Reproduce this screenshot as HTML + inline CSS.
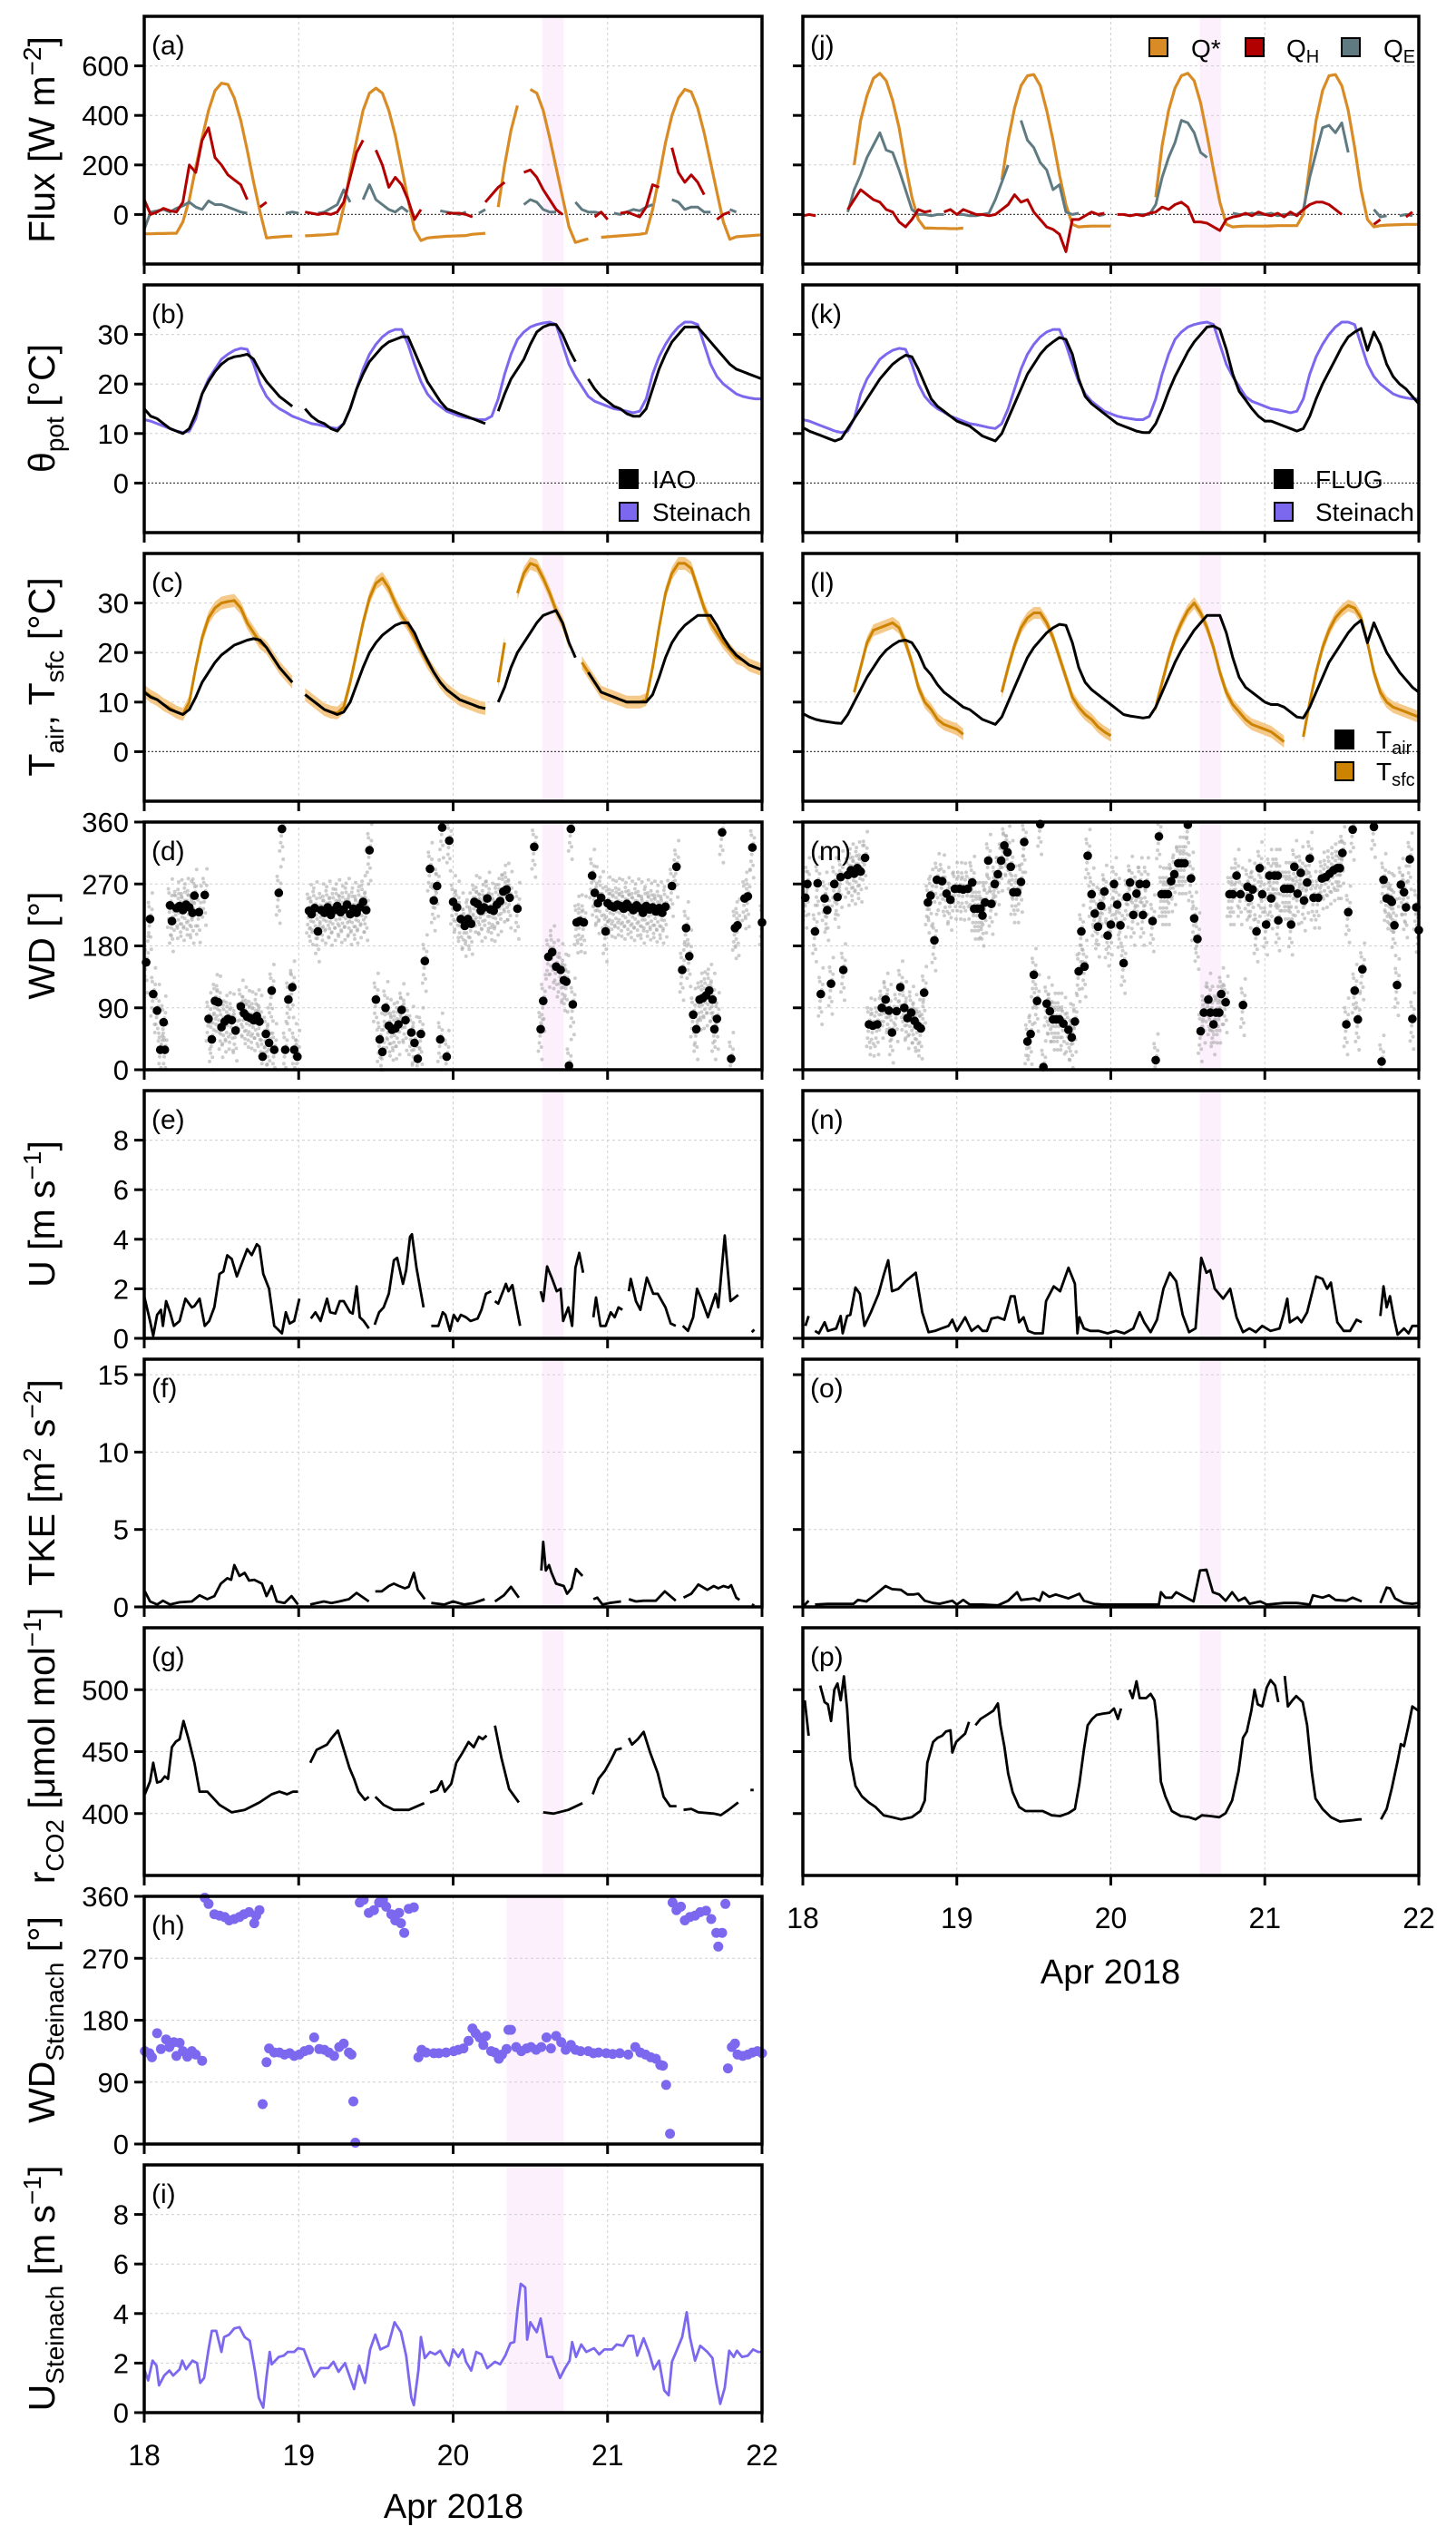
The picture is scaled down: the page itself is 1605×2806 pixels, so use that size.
<!DOCTYPE html>
<html><head><meta charset="utf-8"><style>
html,body{margin:0;padding:0;background:#fff}
svg{display:block;font-family:"Liberation Sans",Arial,sans-serif}
</style></head><body>
<svg id="fig" xmlns="http://www.w3.org/2000/svg" width="1605" height="2806" viewBox="0 0 1605 2806">
<rect width="1605" height="2806" fill="#fff"/>
<g id="layer"></g>
<g font-size="41" text-anchor="middle" fill="#000">
<text x="60" y="154" transform="rotate(-90 60 154)">Flux [W m<tspan font-size="28" dy="-15">−2</tspan><tspan dy="15">]</tspan></text>
<text x="60" y="450" transform="rotate(-90 60 450)">θ<tspan font-size="28" dy="10">pot</tspan><tspan dy="-10"> [°C]</tspan></text>
<text x="60" y="746" transform="rotate(-90 60 746)">T<tspan font-size="28" dy="10">air</tspan><tspan dy="-10">, T</tspan><tspan font-size="28" dy="10">sfc</tspan><tspan dy="-10"> [°C]</tspan></text>
<text x="60" y="1042" transform="rotate(-90 60 1042)">WD [°]</text>
<text x="60" y="1338" transform="rotate(-90 60 1338)">U [m s<tspan font-size="28" dy="-15">−1</tspan><tspan dy="15">]</tspan></text>
<text x="60" y="1634" transform="rotate(-90 60 1634)">TKE [m<tspan font-size="28" dy="-15">2</tspan><tspan dy="15"> s</tspan><tspan font-size="28" dy="-15">−2</tspan><tspan dy="15">]</tspan></text>
<text x="60" y="1924" transform="rotate(-90 60 1924)">r<tspan font-size="28" dy="10">CO2</tspan><tspan dy="-10"> [μmol mol</tspan><tspan font-size="28" dy="-15">−1</tspan><tspan dy="15">]</tspan></text>
<text x="60" y="2226" transform="rotate(-90 60 2226)">WD<tspan font-size="28" dy="10">Steinach</tspan><tspan dy="-10"> [°]</tspan></text>
<text x="60" y="2522" transform="rotate(-90 60 2522)">U<tspan font-size="28" dy="10">Steinach</tspan><tspan dy="-10"> [m s</tspan><tspan font-size="28" dy="-15">−1</tspan><tspan dy="15">]</tspan></text>
</g>
<g font-size="38" text-anchor="middle">
<text x="500" y="2775">Apr 2018</text>
<text x="1224" y="2186">Apr 2018</text>
</g>
<g font-size="28">
<rect x="683" y="518" width="20" height="20" fill="#000" stroke="#000" stroke-width="2"/>
<text x="719" y="538">IAO</text>
<rect x="683" y="554" width="20" height="20" fill="#7b68ee" stroke="#000" stroke-width="2"/>
<text x="719" y="574">Steinach</text>
<rect x="1405" y="518" width="20" height="20" fill="#000" stroke="#000" stroke-width="2"/>
<text x="1450" y="538">FLUG</text>
<rect x="1405" y="554" width="20" height="20" fill="#7b68ee" stroke="#000" stroke-width="2"/>
<text x="1450" y="574">Steinach</text>
<rect x="1267" y="42" width="20" height="20" fill="#d98c26" stroke="#000" stroke-width="2"/>
<text x="1313" y="63">Q*</text>
<rect x="1373" y="42" width="20" height="20" fill="#b20000" stroke="#000" stroke-width="2"/>
<text x="1418" y="63">Q<tspan font-size="20" dy="6">H</tspan></text>
<rect x="1479" y="42" width="20" height="20" fill="#5f7a80" stroke="#000" stroke-width="2"/>
<text x="1525" y="63">Q<tspan font-size="20" dy="6">E</tspan></text>
<rect x="1472" y="805" width="20" height="20" fill="#000" stroke="#000" stroke-width="2"/>
<text x="1517" y="825">T<tspan font-size="20" dy="6">air</tspan></text>
<rect x="1472" y="840" width="20" height="20" fill="#cc8400" stroke="#000" stroke-width="2"/>
<text x="1517" y="860">T<tspan font-size="20" dy="6">sfc</tspan></text>
</g>
</svg>
<script>
// ---------- DATA (hours since 18 Apr 00:00) ----------
const xTickDays = [18,19,20,21,22];
const qstarIAO = [-78,-78,-77,-77,-76,-76,-30,60,190,310,420,500,530,525,470,380,260,130,10,-95,-92,-90,-88,-87,
 null,-86,-85,-83,-82,-80,-78,30,170,300,420,490,510,490,420,320,190,60,-60,-105,-95,-92,-90,-88,
 -87,-86,-85,-80,-78,-76,null,30,200,340,440,null,505,490,420,310,190,70,-50,-113,-105,-98,null,-92,
 -90,-88,-86,-84,-82,-80,-75,20,150,290,400,470,505,495,430,330,210,90,-30,-100,-90,-88,-86,-84,-82];
const qhIAO = [60,0,10,25,15,10,50,200,170,300,350,230,200,160,140,120,60,null,30,50,null,-50,null,null,
 null,10,5,0,5,0,10,50,150,250,300,null,260,200,110,150,120,60,-20,20,null,null,null,5,
 5,5,0,-10,null,50,80,110,130,null,null,170,180,150,100,60,20,0,null,null,-40,null,-10,10,
 -20,null,5,10,0,-10,30,120,110,null,270,170,130,160,130,80,null,-20,0,10,null,10,null,null,null];
const qeIAO = [-60,10,15,20,10,25,35,50,30,20,55,40,40,30,20,10,5,null,null,null,null,null,5,10,
 5,null,null,5,10,25,40,100,50,null,60,120,60,40,20,10,30,10,null,null,null,null,15,10,
 5,0,10,null,5,20,null,null,null,null,null,40,60,50,20,10,10,null,null,50,20,10,10,5,
 null,5,0,10,20,15,30,40,null,null,60,50,20,30,30,10,10,null,null,20,10,null,null,null,null];
const qstarFLUG = [null,null,null,null,null,null,null,null,200,380,480,550,570,540,460,350,200,70,-20,-55,-55,-56,-56,-57,
 -57,-55,null,null,null,null,null,140,300,430,520,560,565,520,420,300,160,40,-40,-50,-48,-47,-47,-47,
 -47,null,null,null,null,null,null,70,280,420,510,560,570,540,450,320,180,50,-40,-50,-48,-47,-47,-47,
 -47,-46,-45,-45,-45,-45,0,200,380,500,560,565,520,420,270,100,-20,-50,-45,-43,-42,-41,-40,-40,-40];
const qeFLUG = [null,null,-30,null,null,null,null,10,100,160,230,280,330,260,250,180,100,20,0,0,-5,0,0,null,
 0,0,-5,-5,0,5,60,130,200,null,380,300,270,210,180,100,120,10,0,5,null,null,-5,0,
 null,null,0,-5,0,0,0,40,150,230,290,380,370,330,250,230,null,null,null,5,0,0,5,0,
 0,5,-5,0,0,0,20,150,250,350,360,330,370,250,null,null,null,20,-10,-5,null,-5,0,-5];
const qhFLUG = [-5,0,-5,null,null,null,null,20,60,100,80,60,50,20,10,-30,-50,-20,20,10,15,null,10,20,
 0,20,10,0,0,-5,0,20,40,80,50,60,10,-20,-50,-60,-80,-150,-20,-20,-5,10,0,5,
 null,0,0,-5,0,-5,5,10,30,20,40,50,30,-30,-30,-35,-50,-65,-20,-10,-5,5,-5,10,
 0,-5,5,-10,10,-5,20,40,50,50,40,20,0,null,null,null,null,-40,-20,null,null,null,-10,10];
const thetaIAO = [15,13.5,13,12,11,10.5,10,11,14,18,20.5,22.5,24,25,25.5,25.7,26,25,22.5,20.5,19,17.5,16.5,15.5,
 null,15,13.5,12.5,12,11,10.5,12,15,19,22,24.5,26,27.5,28.5,29,29.5,29.5,26.5,23.5,20.5,18.5,16.5,15,
 14.5,14,13.5,13,12.5,12,null,14.5,18,21,23,25,28,30.5,31.5,32,32,30,27,24.5,null,21,19,17.5,
 16.5,15.5,15,14,13.5,13.5,15,19,23,26,28.5,30,31.5,31.5,31.5,30,28.5,27,25.5,24,23,22.5,22,21.5,21];
const thetaSteinach = [12.8,12.5,12,11.5,11,10.5,10.2,10.5,13,18,21,23,25,26,26.8,27.2,27,24,20,17.5,16,15,14.3,13.5,
 13,12.5,12,11.8,11.5,11.2,11,12,15,19,23,26,28,29.5,30.5,31,31,28,24,20.5,18,16.5,15.5,14.5,
 14,13.5,13.2,13,12.8,12.8,13.5,17,22,26,29,30.5,31.5,32,32.3,32.5,32,28,24,21.5,19.5,17.5,16.5,16,
 15.5,15,14.8,14.5,14.2,14.5,17,22,25.5,28,30,31.5,32.5,32.5,32,28,24,21.5,20,19,18,17.5,17.2,17,17];
const thetaFLUG = [11.2,10.5,10,9.5,9,8.5,9,11,13,15,17,19,21,22.5,24,25,25.8,25.5,23,20,17,15.5,14.5,13.5,
 12.5,12,11.5,10.5,9.5,9,8.5,10,13,16,19,22,24,26,27.5,28.5,29.4,29,26,21,17.5,16,15,14,
 13,12,11.5,11,10.5,10.2,10.2,12,15,18.5,21.5,24,26.5,28.5,30,31.5,31.7,31,27,22,18.5,16.8,15,13.5,
 12.5,12.5,12,11.5,11,10.5,11,13.5,17,20,22.5,25,27.5,29.5,30.5,31.2,26.8,30.5,28,24,21.5,20,19,17.5,16];
const tairIAO = [12,11,10.5,9.5,8.5,8,7.5,8.5,11,14,16,18,19.5,20.5,21.5,22,22.5,22.8,22.5,21,19,17,15.5,14,
 null,11.5,10.5,9.5,8.5,8,7.5,8,10,13.5,17,20,22,23.5,24.5,25.5,26,26,24,21,18.5,16,14,12.5,
 11.5,10.5,10,9.5,9,8.7,null,10,13,17,20,22,24,26,27.5,28,28.5,26,22,19,null,16,14,12,
 11.5,11,10.5,10,10,10,10,11.5,15,19,22,24,25.5,26.5,27.5,27.5,27.5,25.5,23,21,19.5,18.5,17.5,17,16.5];
const tsfcIAO = [12.2,11.2,10.5,9.5,8.8,8,7.5,10,17,23,27,29,30,30.3,30.5,29,26,24,22,21,19,17,15.5,14,
 null,11.5,10.5,9.5,8.5,8,7.8,9,14,20,26,31,34,35,33,30,27.5,25.5,23,20.5,18,16,14,12.5,
 11.5,10.5,10,9.5,9,8.7,null,14,22,null,32,36,38,37.5,35,32,28.5,26,22,null,18,16,14,12,
 11.5,11,10.5,10,10,10,10.5,17,25,32,36,38,38,37,33,29,26,24,22,20.5,19,18.5,17.5,17,16.5];
const tairFLUG = [7.7,7,6.5,6.2,6,5.8,5.7,7.5,10,12.5,15,17,19,20.5,21.5,22.3,22.5,22,20,17,15.5,13.5,12,11,
 10,9,8.5,7.5,6.5,6,5.5,7,10,13,16,19,21,22.5,24,25,25.7,25.5,22,17,14,12.5,11.5,10.5,
 9.5,8.5,7.5,7.2,7,6.8,7,9,12,15,18,20.5,22.5,24.5,26,27.5,27.5,27.5,24,19,15,13,12,11,
 10,9.5,9.5,9,8,7,6.8,9,12,15,18,20,22,24,25.5,26.5,22,26,23,20,18,16,14.5,13,12];
const tsfcFLUG = [null,null,null,null,null,null,null,null,12,17,22,24.5,25,25.5,26,25,22,18,13,10,8.5,6.5,5.5,5,
 4.5,3.5,null,null,null,null,null,12,17,21.5,25,27,28,28,26,23,19,15,11,9,7.5,6.5,5,4,
 3.2,null,null,null,null,null,null,9,14,19,23,26,28.5,30,28,25,21,16,12,9.5,8,6.5,5.5,5,
 4.5,4,3,2,null,null,3,10,16,21,24.5,27,28.5,29.5,29,27,22,16,12,10,9,8.5,8,7.5,7];
const wdIAO = [[0.3,156],[0.9,219],[1.4,110],[2,86],[2.5,29],[3,69],[3.2,29],[4,239],[4.3,216],[5,235],[5.5,238],[6,232],[6.5,240],[7,236],[7.5,228],[7.8,253],[8.5,229],[9.4,254],[10,74],[10.5,44],[11,100],[11.5,98],[12,62],[12.5,70],[13,74],[13.6,72],[14.2,57],[15,92],[15.5,82],[16,77],[16.5,75],[17,72],[17.5,78],[17.9,70],[18.4,19],[18.9,52],[19.4,39],[19.8,115],[20.2,29],[20.9,257],[21.4,350],[21.9,29],[22.4,102],[23,120],[23.3,29],[23.8,19],
 [25.6,231],[26,226],[26.5,235],[27,201],[27.5,232],[28,228],[28.5,236],[29,225],[29.5,232],[30,238],[30.5,229],[31,233],[31.5,240],[32,226],[32.5,234],[33,228],[33.5,236],[34,244],[34.5,232],[35,319],[36,102],[36.6,44],[37,26],[37.5,90],[38,64],[38.5,58],[39,60],[39.5,66],[40,87],[40.6,72],[41.5,54],[42,39],[42.5,16],[43,52],[43.6,158],[44.4,292],[45,246],[45.5,267],[46,44],[46.3,352],[47,19],[47.4,333],
 [48,244],[48.6,236],[49.2,219],[49.8,209],[50.3,219],[50.8,212],[51.3,244],[51.8,241],[52.3,231],[52.8,236],[53.3,249],[53.8,233],[54.3,231],[54.8,240],[55.3,245],[55.8,259],[56.3,262],[56.8,250],[58,234],[60.6,324],[61.6,59],[62,100],[62.8,164],[63.4,171],[64,150],[64.7,145],[65.2,130],[65.6,128],[66,6],[66.3,350],[66.6,95],[67.2,214],[67.7,216],[68.3,214],[69.6,282],[70,257],[70.5,242],[71,250],[71.7,201],
 [72,242],[72.5,238],[73,236],[73.5,240],[74,238],[74.5,234],[75,241],[75.5,236],[76,232],[76.5,239],[77,235],[77.5,228],[78,238],[78.5,233],[79,236],[79.5,230],[80,235],[80.5,228],[81,237],[82,267],[82.7,295],[83.6,145],[84.2,206],[84.7,165],[85.3,80],[85.8,59],[86.3,102],[86.8,104],[87.3,108],[87.8,115],[88.3,102],[88.6,59],[89,74],[89.8,345],[91.2,16],[91.8,206],[92.2,210],[93.3,249],[93.8,252],[94.5,323],[96,214]];
const wdFLUG = [[0.4,250],[0.7,270],[1.9,201],[2.3,271],[2.8,110],[3.4,249],[3.8,232],[4.4,125],[4.9,270],[5.4,251],[5.9,280],[6.3,145],[7,283],[7.5,290],[8,285],[8.5,293],[9,288],[9.7,308],
 [10.3,66],[10.9,64],[11.6,66],[12.3,90],[12.9,102],[13.4,86],[13.9,54],[14.6,85],[15.2,120],[15.8,90],[16.3,75],[16.9,83],[17.4,71],[17.9,64],[18.4,60],[18.9,112],
 [19.5,243],[19.9,253],[20.5,188],[20.9,276],[21.7,274],[22.4,256],[23,247],[23.7,263],[24.4,263],[25,262],[25.7,263],[26.4,272],[26.7,234],[27.2,234],[27.7,234],[28,224],[28.4,243],[28.9,304],[29.4,241],[29.9,270],[30.4,284],[30.9,304],[31.4,326],[31.9,316],[32.4,295],[32.8,258],[33.4,258],[34,273],[34.5,331],
 [35,41],[35.5,52],[36,138],[36.5,100],[37,357],[37.5,4],[38,96],[38.5,85],[39,73],[39.5,73],[40,73],[40.6,67],[41.4,58],[41.9,47],[42.4,70],[43,143],[43.4,201],[43.9,150],
 [44.4,311],[45,255],[45.5,227],[46,208],[46.5,238],[47,259],[47.5,195],[48,211],[48.5,270],[49,240],[49.5,210],[50,155],[50.5,251],[51,272],[51.5,225],[52,256],[52.5,270],[53,225],[53.5,270],[54.5,216],[55,14],[55.5,339],[55.9,255],[56.4,255],[56.9,255],[57.4,274],[57.9,284],[58.5,300],[59,300],[59.5,300],[60,356],[60.5,278],[61,220],[61.5,190],
 [62,56],[62.5,83],[63.2,102],[63.5,83],[64,66],[64.4,83],[64.9,83],[65.2,110],[65.9,98],
 [66.5,255],[67,255],[67.6,282],[68.2,255],[68.6,94],[69.3,266],[69.6,250],[70.1,262],[70.7,201],[71.2,293],[71.6,255],[72.2,211],[72.7,282],[73,249],[73.5,282],[74,282],[74.1,217],[75,263],[75.5,263],[76,263],[76.1,211],[76.6,295],[77.1,256],[77.6,286],[78.1,246],[78.6,272],[79,307],[79.6,250],[80.3,250],[80.9,278],[81.5,280],[82.1,285],[82.7,290],[83.3,293],[83.7,293],[84.1,315],
 [84.7,66],[85,229],[85.7,349],[86,115],[86.5,73],[87.2,146],[89,353],[90.2,12],[90.5,276],[91,249],[91.5,247],[91.8,244],[92.2,210],[92.6,123],[93.2,269],[93.7,258],[94,236],[94.6,306],[95,74],[95.6,236],[96,203]];
const uIAO = [[0,1.7],[0.9,0.7],[1.4,0.1],[2,0.95],[2.6,1.15],[2.9,0.5],[3.4,1.5],[4,1.05],[4.6,0.5],[5.5,0.7],[6.4,1.6],[7.4,1.25],[7.8,1.3],[8.6,1.6],[9.4,0.5],[10.1,0.7],[10.9,1.26],[11.7,2.6],[12.3,2.7],[12.9,3.35],[13.6,3.2],[14.4,2.5],[15.2,3.05],[16,3.6],[16.7,3.36],[17.5,3.8],[17.9,3.7],[18.5,2.6],[19.4,2.0],[20.2,0.5],[21.4,0.2],[22,1.05],[22.6,0.6],[23.3,0.7],[24.1,1.6],[24.5,null],
 [25.9,0.8],[26.6,1.05],[27.4,0.7],[28.4,1.6],[28.9,1.05],[29.7,1.0],[30.4,1.5],[31,1.5],[32,1.05],[32.4,1.0],[33,2.1],[33.5,0.85],[34.1,0.7],[34.9,0.4],[35.3,null],
 [35.8,0.55],[36.5,1.05],[37.2,1.25],[38,1.8],[38.8,3.15],[39.3,3.25],[40.2,2.2],[40.7,2.75],[41.3,4.1],[41.6,4.2],[42.3,2.85],[43.4,1.25],[44,null],
 [44.6,0.5],[45.7,0.5],[46.4,1.05],[46.8,0.95],[47.5,0.3],[48.1,0.95],[48.7,0.7],[49.2,0.95],[50,0.85],[50.7,0.7],[51.8,0.8],[52.4,1.15],[53.1,1.8],[53.9,1.9],[54.2,null],
 [54.5,1.5],[55,1.4],[56.2,2.2],[56.6,1.9],[57.2,2.15],[58.4,0.5],[59,null],
 [61.6,1.9],[62,1.5],[62.6,2.9],[63.4,2.4],[64.1,1.9],[64.7,2.0],[65.1,0.7],[65.9,1.25],[66.5,0.5],[67,2.85],[67.6,3.45],[68.2,2.65],[69,null],
 [69.8,0.85],[70.2,1.65],[70.9,0.5],[71.7,0.5],[72.5,1.05],[73.1,0.85],[73.7,1.25],[74.3,1.15],[74.8,null],
 [75.3,1.9],[75.6,2.4],[76.4,1.5],[77.1,1.15],[78.1,2.45],[79.1,1.8],[79.8,1.8],[81,1.25],[81.8,0.6],[82.6,0.5],[83.1,null],
 [83.7,0.5],[84.5,0.3],[85.3,0.85],[85.9,2.0],[86.7,1.5],[87.6,0.85],[88.8,1.8],[89.2,1.25],[90.2,4.15],[91.1,1.5],[92.3,1.75],[93,null],[94.4,0.25],[94.8,0.35]];
const tkeIAO = [[0.1,1.0],[0.9,0.35],[2,0.15],[2.9,0.4],[4,0.15],[5.5,0.3],[7.4,0.35],[8.6,0.75],[9.8,0.5],[10.9,0.7],[11.9,1.5],[12.9,1.85],[13.5,1.75],[14,2.7],[14.8,2.0],[15.6,2.2],[16.3,1.7],[17.1,1.75],[18.3,1.5],[19,0.7],[19.8,1.35],[20.6,0.35],[21.8,0.25],[22.9,0.7],[23.9,0.15],[24.8,null],
 [25.8,0.15],[27.9,0.35],[29.1,0.25],[30.3,0.35],[31.8,0.5],[33,0.9],[34.9,0.35],[35.4,null],
 [35.9,1.0],[36.9,1.0],[38,1.35],[38.8,1.5],[39.6,1.35],[40.5,1.2],[41.1,1.3],[41.9,2.2],[42.5,1.1],[43.6,0.5],[44.1,null],
 [44.6,0.25],[46.6,0.15],[48,0.35],[49.7,0.15],[51.2,0.25],[52.9,0.5],[53.7,null],
 [54.5,0.35],[55.9,0.75],[57,1.3],[58.2,0.6],[60,null],
 [61.7,2.35],[62,4.2],[62.4,2.35],[62.9,2.7],[63.3,2.2],[64,1.5],[65.2,1.35],[65.7,0.85],[66.4,1.2],[67.1,2.45],[68.1,2.0],[69,null],
 [69.8,0.5],[70.4,0.6],[71.2,0.15],[72.3,0.25],[74.1,0.35],[74.7,null],
 [75.3,0.5],[76.4,0.35],[77.6,0.4],[79.5,0.4],[80.9,1.0],[82.6,0.4],[83.2,null],
 [83.8,0.6],[85,0.85],[86.1,1.45],[87.5,1.1],[88.5,1.35],[89.2,1.2],[90,1.35],[90.8,1.25],[91.2,1.4],[92,0.6],[92.5,0.45],[93.5,null],[94.4,0.15],[94.8,0.1]];
const co2IAO = [[0.1,415.6],[0.9,426],[1.4,441],[2,425],[2.6,426],[3.2,430],[3.7,428],[4.3,453.6],[4.9,458],[5.5,460],[6.1,474.7],[6.9,460],[7.8,441],[8.6,417.7],[9.8,417.7],[11.7,407],[13.6,401],[15.6,403],[17.9,409],[19.8,415.6],[21,417.7],[22.2,415.6],[23.1,417.7],[23.9,417.7],[24.8,null],
 [25.8,441],[26.8,451.5],[28.4,455.7],[29.1,460.8],[30.1,467],[30.9,453.6],[31.9,436.7],[32.6,428],[33.3,417.7],[34.3,411],[34.9,413.5],[35.4,null],
 [35.9,413.5],[37.2,407],[38.8,403],[41.1,403],[43.5,408.4],[44,null],
 [44.4,417],[45.5,419],[46.2,426],[46.7,417.7],[47.7,424],[48.5,441],[49.5,449.4],[50.4,457.8],[51.2,453.6],[52,462],[52.6,460],[53.2,463],[53.8,null],
 [54.5,471],[55.5,445],[56.7,419.8],[58.2,409],[60,null],
 [62,401],[63.6,400],[65.9,403],[68.1,408.4],[68.9,null],
 [69.7,415.6],[70.6,428],[71.6,434.6],[72.5,443],[73.3,451.5],[74.2,452.7],[74.7,null],
 [75.3,461],[75.8,455.7],[76.7,460],[77.6,466],[78.6,449.4],[79.8,432.5],[80.7,413.5],[81.7,406],[82.7,406],[83.2,null],
 [83.8,403],[85,403.8],[86.1,401],[88.5,400],[89.6,398.7],[90.8,403],[92.3,409],[93,null],[94.2,419],[94.7,419]];
const wdSteinach = [[0.1,135],[0.8,132],[1.2,126],[2,161],[2.6,138],[3.4,152],[3.9,141],[4.6,148],[5,128],[5.5,147],[6,135],[6.7,127],[7.4,135],[8,130],[9,121],
 [9.4,358],[10,349],[10.9,334],[11.7,332],[12.5,330],[13.2,325],[14,327],[14.8,330],[15.5,334],[16.3,337],[17.1,321],[17.4,332],[17.9,340],
 [18.4,58],[19,119],[19.4,139],[20.2,133],[21,133],[21.8,130],[22.6,132],[23.3,128],[24.1,130],[24.9,135],[25.6,137],[26.4,155],[27.2,138],[28,137],[28.7,133],[29.5,128],[30.3,141],[31,146],[31.8,133],[32.2,130],
 [32.5,62],[32.8,2],
 [33.5,351],[34.1,355],[34.9,336],[35.7,340],[36.5,351],[37.1,355],[37.6,345],[38.4,334],[39,325],[39.6,336],[39.9,321],[40.4,307],[41.1,342],[41.9,344],
 [42.6,126],[43.1,137],[43.8,133],[45,132],[45.8,132],[46.9,133],[48.1,135],[48.8,137],[49.6,139],[50.4,150],[51,168],[51.5,161],[52.1,155],[52.7,144],[53.1,157],[53.9,135],[54.5,133],[55.1,124],[55.6,130],[56.3,138],[56.6,166],[57,166],[57.8,141],[58.6,135],[59.4,139],[60.1,141],[60.9,137],[61.7,141],[62.5,155],[63.2,139],[64,157],[64.8,148],[65.5,137],[66.3,144],[67,137],[67.8,135],[69,135],[69.8,132],[70.6,133],[71.8,132],[72.8,131],[73.9,132],[75.2,130],[76.3,141],[77.1,133],[77.9,130],[78.7,126],[79.5,124],[80.2,115],[80.6,114],
 [81.1,86],[81.7,15],
 [82.1,351],[82.7,340],[83.4,345],[84,325],[84.8,330],[85.6,332],[86.4,337],[87.3,339],[88.1,327],[88.9,307],[89.2,287],[89.8,307],[90.3,349],
 [90.7,110],[91.3,141],[91.8,146],[92.2,130],[93,128],[93.8,130],[94.5,133],[95.3,135],[96,132]];
const uSteinach = [[0,1.75],[0.6,1.3],[1.3,2.1],[1.9,1.9],[2.3,1.1],[3.1,1.5],[3.9,1.7],[4.5,1.5],[5.5,1.75],[5.9,2.1],[6.5,1.75],[7.5,2.1],[8.2,2.0],[8.7,1.2],[9.3,1.4],[10,2.55],[10.5,3.3],[11.2,3.3],[12,2.45],[12.4,3.05],[13.2,3.15],[14,3.4],[14.8,3.45],[15.6,3.05],[16.4,2.9],[17.2,1.7],[17.8,0.6],[18.5,0.2],[19,1.45],[19.5,2.45],[19.8,1.95],[20.9,2.25],[21.7,2.3],[22.3,2.45],[23.3,2.45],[23.9,2.6],[24.8,2.55],[25.3,2.2],[26.4,1.45],[27.4,1.8],[28.6,1.8],[29.4,2.05],[30.2,1.65],[31.2,2.0],[31.8,1.55],[32.6,0.95],[33.4,1.9],[34.3,1.2],[35.1,2.55],[35.9,3.15],[36.7,2.55],[37.9,2.7],[38.9,3.65],[39.9,3.25],[40.7,2.3],[41.5,0.6],[41.9,0.3],[42.6,1.7],[43,3.05],[43.6,2.2],[44.4,2.45],[45.2,2.35],[46,2.5],[46.8,2.1],[47.4,1.9],[48,2.55],[48.8,2.25],[49.5,2.55],[50,2.05],[50.8,1.7],[51.6,2.45],[52.4,2.35],[53.3,1.8],[54.5,2.05],[55.3,1.95],[56.1,2.3],[56.9,2.8],[57.5,2.85],[58,4.15],[58.5,5.2],[59.2,5.05],[59.5,2.95],[60,3.65],[60.6,3.4],[61,3.25],[61.6,3.8],[62.6,2.25],[63.4,2.25],[64.6,1.4],[65.4,1.8],[66.1,2.1],[66.5,2.85],[67.1,2.25],[67.9,2.75],[68.7,2.45],[69.9,2.6],[70.7,2.35],[71.5,2.55],[72.7,2.55],[73.4,2.75],[74.4,2.7],[75.2,3.1],[76,3.1],[76.6,2.3],[77.6,3.0],[78.4,2.45],[79.2,1.75],[80,2.1],[80.8,0.9],[81.5,0.7],[82,2.05],[82.8,2.55],[83.6,3.05],[84.3,4.05],[84.8,3.05],[85.6,2.1],[86.4,2.7],[87.5,2.45],[88.3,2.2],[88.9,1.2],[89.5,0.35],[90.2,1.0],[90.9,2.5],[91.6,2.25],[92.1,2.5],[92.9,2.25],[93.8,2.3],[94.6,2.55],[95.4,2.45],[96,2.45]];
const uFLUG = [[0.4,0.5],[0.9,0.9],[1.4,null],[1.9,0.3],[2.5,0.2],[3.4,0.65],[3.9,0.3],[5.2,0.4],[5.9,0.9],[6.2,0.2],[6.9,0.9],[7.4,0.95],[8.2,2.05],[8.9,1.8],[9.6,0.5],[10.6,1.05],[11.8,1.8],[12.6,2.55],[13.3,3.15],[13.9,1.9],[14.9,2.0],[16,2.3],[17.6,2.65],[18.6,1.05],[19.6,0.25],[20.6,0.3],[21.6,0.4],[22.7,0.5],[23.3,0.75],[24,0.3],[25.3,0.85],[26.3,0.3],[27.3,0.5],[28,0.3],[28.7,0.3],[29.4,0.8],[30.4,0.85],[31.4,0.75],[32.4,1.7],[33,1.7],[33.7,0.65],[34.4,0.85],[35.1,0.3],[36.1,0.2],[37.4,0.2],[37.9,1.5],[39.1,2.1],[40.1,1.9],[41.4,2.85],[42.4,2.2],[42.8,0.2],[43.1,0.85],[43.8,0.4],[44.8,0.3],[46.1,0.3],[47.5,0.2],[48.8,0.3],[50.1,0.2],[51.5,0.4],[52.5,1.05],[53.2,0.65],[54.2,0.25],[55.2,0.75],[56.2,2.0],[57.2,2.65],[58.2,2.3],[59.2,0.95],[60.2,0.25],[61.2,0.4],[62.1,3.25],[62.9,2.65],[63.5,2.75],[64.2,2.0],[65.5,1.6],[66.6,2.0],[67.6,0.85],[68.6,0.25],[69.6,0.4],[70.6,0.25],[71.6,0.5],[72.9,0.3],[74.3,0.4],[74.9,0.95],[75.5,1.6],[75.9,0.65],[77.1,0.85],[77.7,0.65],[78.6,1.05],[80,2.5],[81,2.4],[81.7,2.0],[82.3,2.25],[83.3,0.65],[84.3,0.3],[85.3,0.3],[86.3,0.75],[87.1,0.65],[88,null],
 [90,0.9],[90.5,2.1],[91,1.25],[91.5,1.7],[92.1,0.85],[92.7,0.15],[93.7,0.4],[94.4,0.2],[95,0.5],[95.9,0.5]];
const tkeFLUG = [[0,0],[0.9,0.4],[1.4,null],[1.9,0.15],[3.9,0.2],[5.9,0.2],[7.9,0.2],[8.6,0.45],[9.9,0.35],[11.3,0.8],[12.9,1.35],[13.9,1.15],[15.3,1.1],[16.3,0.8],[17.3,0.8],[18,0.85],[19,0.4],[20.3,0.25],[21.3,0.2],[23.3,0.4],[24,0.15],[25,0.45],[26,0.15],[28,0.15],[30.4,0.1],[32,0.4],[33.4,0.95],[34,0.45],[36.1,0.55],[36.9,0.4],[37.4,0.95],[38.4,0.65],[39.4,0.8],[41.4,0.55],[43.1,0.85],[43.8,0.4],[45.4,0.2],[46.8,0.15],[49.5,0.15],[52.1,0.15],[55.5,0.15],[55.8,0.95],[56.5,0.6],[57.5,0.6],[58.2,0.95],[59.5,0.65],[60.9,0.35],[61.9,2.35],[62.9,2.4],[63.9,0.95],[64.9,0.8],[65.9,0.4],[66.9,0.95],[67.9,0.4],[68.9,0.6],[69.6,0.2],[71.3,0.35],[72.3,0.15],[75,0.25],[77,0.25],[79,0.15],[79.5,0.75],[81,0.6],[82,0.75],[83,0.45],[84.7,0.4],[85.7,0.6],[87.1,0.35],[88,null],
 [90,0.25],[91,1.25],[91.5,1.2],[92.3,0.55],[93.7,0.25],[95,0.2],[95.9,0.25]];
const co2FLUG = [[0.3,491.5],[0.9,462.8],[1.8,null],[2.7,503.4],[3.4,489.9],[3.9,488.2],[4.4,474.7],[4.9,500],[5.4,505],[5.9,491.5],[6.4,510.8],[6.9,484.8],[7.4,444.3],[8.2,422.3],[9.2,413.9],[10.3,408.8],[11.3,405.4],[12.6,398.6],[13.9,397],[15.3,395.3],[17,397],[18.3,402],[19,410.5],[19.4,440.9],[20.3,457.8],[21,461.1],[21.7,462.8],[22.3,466.2],[23,467.2],[23.3,449.3],[23.9,457.8],[24.7,461.8],[25.3,464.5],[25.9,474],[26.4,null],
 [26.9,471.3],[27.7,476.4],[28.7,479.7],[29.7,483.1],[30.4,488.9],[30.8,471.3],[31.4,454.4],[32,432.4],[32.7,417.2],[33.7,405.4],[34.7,402],[36.1,402],[37.4,402],[38.8,398.6],[40.1,398],[41.4,400.3],[42.4,403.7],[43.1,424],[43.8,451.4],[44.4,471.3],[45.1,476.4],[45.8,479.7],[46.8,480.7],[47.8,481.4],[48.5,484.8],[49.1,476.4],[49.6,484.8],[50.2,null],
 [50.9,500],[51.4,493.2],[52,506.8],[52.5,493.2],[53.5,493.2],[54.2,496.6],[54.8,491.5],[55.2,474.7],[55.8,425.7],[56.5,413.9],[57.5,402],[58.9,398],[60.2,397],[61.2,395.3],[62.2,398.6],[63.5,398],[64.9,397],[65.9,400.3],[66.9,410.5],[67.9,434.1],[68.6,461.1],[69.2,466.2],[69.9,483.1],[70.4,500],[70.9,488.2],[71.6,486.5],[72.3,501.7],[72.9,507.8],[73.6,503.4],[74.1,489.9],[74.6,null],
 [75.1,511.1],[75.6,486.5],[76.3,491.5],[76.9,494.9],[77.9,489.9],[78.6,471.3],[79.3,434.1],[79.9,412.2],[81,403.7],[82.3,397],[83.7,393.6],[85.7,394.6],[86.7,395.3],[87.1,395.3],[88,null],
 [90.1,395.3],[91,403.7],[91.8,420.6],[92.7,442.6],[93.2,456.1],[93.7,454.4],[94.4,471.3],[95,486.5],[95.9,483.1]];
// grey-cloud spread pattern (offsets around each hourly mean)
const cloudDeg = [-32,-20,-10,-3,6,14,24,-44,38,-26,18];
const cloudHr = [-0.35,-0.2,-0.1,0.05,0.15,0.3,-0.25,0.2,0.35,0.1,-0.15];
// tick arrays
const ticksFlux = [0,200,400,600];
const ticksTemp = [0,10,20,30];
const ticksWD = [0,90,180,270,360];
const ticksU = [0,2,4,6,8];
const ticksTKE = [0,5,10,15];
const ticksCO2 = [400,450,500];

// ---------- DRAWING ----------
const NS='http://www.w3.org/2000/svg';
const layer=document.getElementById('layer');
const LC={x0:159,x1:840}, RC={x0:885,x1:1564};
function mk(tag,attrs,parent){const e=document.createElementNS(NS,tag);for(const k in attrs)e.setAttribute(k,attrs[k]);(parent||layer).appendChild(e);return e;}
function hourly(arr){return arr.map((v,i)=>[i,v]);}

function makePanel(pname,col,row,ymin,ymax,ticks,o){
  const top=18+296*row, bot=top+273, x0=col.x0, x1=col.x1;
  const g=mk('g',{});
  
  
  const p={x0,x1,top,bot,g,sx:h=>x0+h/96*(x1-x0),sy:v=>bot-(v-ymin)/(ymax-ymin)*(bot-top)};
  const sh=mk('rect',{x:p.sx(o.shade[0]),y:top,width:p.sx(o.shade[1])-p.sx(o.shade[0]),height:273,fill:'#fcf0fc'},g);
  
  
  xTickDays.forEach(d=>{
    const x=p.sx((d-18)*24);
    if(d>18&&d<22){const gl=mk('line',{x1:x,x2:x,y1:top,y2:bot,stroke:'#cfcfcf','stroke-width':1,'stroke-dasharray':'3,3'},g);
      
      }
    const tk=mk('line',{x1:x,x2:x,y1:bot,y2:bot+11,stroke:'#000','stroke-width':3},g);
    
    
    if(o.xLabels){const t=mk('text',{x:x,y:bot+58,'font-size':32,'text-anchor':'middle'},g);t.textContent=String(d);
      
      }
  });
  ticks.forEach(v=>{
    const y=p.sy(v);
    const zero=(v===0&&o.zero);
    if(v>ymin&&v<ymax){const gl=mk('line',{x1:x0,x2:x1,y1:y,y2:y,stroke:zero?'#444':'#cfcfcf','stroke-width':zero?1.3:1,'stroke-dasharray':zero?'2,2':'3,3'},g);
      
      }
    const tk=mk('line',{x1:x0-11,x2:x0,y1:y,y2:y,stroke:'#000','stroke-width':3},g);
    
    
    if(o.yLabels){const t=mk('text',{x:x0-17,y:y+11,'font-size':31,'text-anchor':'end'},g);t.textContent=String(v);
      
      }
  });
  p.series=mk('g',{},g);
  const fr=mk('rect',{x:x0,y:top,width:x1-x0,height:273,fill:'none',stroke:'#000','stroke-width':3.5});
  
  
  const lb=mk('text',{x:x0+8,y:top+42,'font-size':30},g);lb.textContent=o.label;
  
  
  return p;
}
function segs(p,pts){const out=[];let cur=[];pts.forEach(([h,v])=>{if(v===null||v===undefined){if(cur.length)out.push(cur);cur=[];}else cur.push([p.sx(h),p.sy(v)]);});if(cur.length)out.push(cur);return out;}
function drawLine(p,pts,color,w,sname){
  let d='';segs(p,pts).forEach(s=>{d+='M'+s.map(q=>q[0].toFixed(1)+','+q[1].toFixed(1)).join('L');});
  const e=mk('path',{d:d,fill:'none',stroke:color,'stroke-width':w,'stroke-linejoin':'round'},p.series);
  
  
}
function drawBand(p,arr,half,color,sname){
  const gb=mk('g',{},p.series);
  
  
  let cur=[];const flush=()=>{if(cur.length>1){const up=cur.map(([h,v])=>p.sx(h)+','+p.sy(v+half));const dn=cur.slice().reverse().map(([h,v])=>p.sx(h)+','+p.sy(v-half));mk('polygon',{points:up.concat(dn).join(' '),fill:color},gb);}cur=[];};
  arr.forEach((v,i)=>{if(v===null)flush();else cur.push([i,v]);});flush();
}
function drawDots(p,pts,color,r,sname){
  const gd=mk('g',{fill:color},p.series);
  
  
  pts.forEach(([h,v])=>{mk('circle',{cx:p.sx(h).toFixed(1),cy:p.sy(v).toFixed(1),r:r},gd);});
}
function drawCloud(p,pts,sname){
  const gc=mk('g',{fill:'#aaaaaa','fill-opacity':0.6},p.series);
  
  
  pts.forEach(([h,v])=>{cloudDeg.forEach((dd,j)=>{const vv=v+dd, hh=h+cloudHr[j];if(vv<0||vv>360||hh<0||hh>96)return;mk('circle',{cx:p.sx(hh).toFixed(1),cy:p.sy(vv).toFixed(1),r:2},gc);});});
}
const SH=[61.85,65.2], SHL=[56.3,65.2];
const C_Q='#d98c26', C_H='#b20000', C_E='#5f7a80', C_S='#7b68ee', C_T='#cc8400';
let p;
p=makePanel('panel-a-flux-iao',LC,0,-200,800,ticksFlux,{shade:SH,zero:true,yLabels:true,label:'(a)'});
drawLine(p,hourly(qstarIAO),C_Q,3.2,'qstar-line-iao');
drawLine(p,hourly(qeIAO),C_E,3,'qe-line-iao');
drawLine(p,hourly(qhIAO),C_H,3,'qh-line-iao');
p=makePanel('panel-b-theta-iao',LC,1,-10,40,ticksTemp,{shade:SH,zero:true,yLabels:true,label:'(b)'});
drawLine(p,hourly(thetaSteinach),C_S,3,'theta-steinach-line');
drawLine(p,hourly(thetaIAO),'#000',3,'theta-iao-line');
p=makePanel('panel-c-temp-iao',LC,2,-10,40,ticksTemp,{shade:SH,zero:true,yLabels:true,label:'(c)'});
drawBand(p,tsfcIAO,1.3,'#f5c98a','tsfc-band-iao');
drawLine(p,hourly(tsfcIAO),C_T,3,'tsfc-line-iao');
drawLine(p,hourly(tairIAO),'#000',3,'tair-line-iao');
p=makePanel('panel-d-wd-iao',LC,3,0,360,ticksWD,{shade:SH,zero:false,yLabels:true,label:'(d)'});
drawCloud(p,wdIAO,'wd-cloud-iao');
drawDots(p,wdIAO,'#000',4.8,'wd-dots-iao');
p=makePanel('panel-e-u-iao',LC,4,0,10,ticksU,{shade:SH,zero:false,yLabels:true,label:'(e)'});
drawLine(p,uIAO,'#000',2.8,'u-line-iao');
p=makePanel('panel-f-tke-iao',LC,5,0,16,ticksTKE,{shade:SH,zero:false,yLabels:true,label:'(f)'});
drawLine(p,tkeIAO,'#000',2.8,'tke-line-iao');
p=makePanel('panel-g-co2-iao',LC,6,350,550,ticksCO2,{shade:SH,zero:false,yLabels:true,label:'(g)'});
drawLine(p,co2IAO,'#000',2.8,'co2-line-iao');
p=makePanel('panel-h-wd-steinach',LC,7,0,360,ticksWD,{shade:SHL,zero:false,yLabels:true,label:'(h)'});
drawDots(p,wdSteinach,C_S,5.5,'wd-dots-steinach');
p=makePanel('panel-i-u-steinach',LC,8,0,10,ticksU,{shade:SHL,zero:false,yLabels:true,xLabels:true,label:'(i)'});
drawLine(p,uSteinach,C_S,2.8,'u-line-steinach');
p=makePanel('panel-j-flux-flug',RC,0,-200,800,ticksFlux,{shade:SH,zero:true,label:'(j)'});
drawLine(p,hourly(qstarFLUG),C_Q,3.2,'qstar-line-flug');
drawLine(p,hourly(qeFLUG),C_E,3,'qe-line-flug');
drawLine(p,hourly(qhFLUG),C_H,3,'qh-line-flug');
p=makePanel('panel-k-theta-flug',RC,1,-10,40,ticksTemp,{shade:SH,zero:true,label:'(k)'});
drawLine(p,hourly(thetaSteinach),C_S,3,'theta-steinach-line-k');
drawLine(p,hourly(thetaFLUG),'#000',3,'theta-flug-line');
p=makePanel('panel-l-temp-flug',RC,2,-10,40,ticksTemp,{shade:SH,zero:true,label:'(l)'});
drawBand(p,tsfcFLUG,1.2,'#f5c98a','tsfc-band-flug');
drawLine(p,hourly(tsfcFLUG),C_T,3,'tsfc-line-flug');
drawLine(p,hourly(tairFLUG),'#000',3,'tair-line-flug');
p=makePanel('panel-m-wd-flug',RC,3,0,360,ticksWD,{shade:SH,zero:false,label:'(m)'});
drawCloud(p,wdFLUG,'wd-cloud-flug');
drawDots(p,wdFLUG,'#000',4.8,'wd-dots-flug');
p=makePanel('panel-n-u-flug',RC,4,0,10,ticksU,{shade:SH,zero:false,label:'(n)'});
drawLine(p,uFLUG,'#000',2.8,'u-line-flug');
p=makePanel('panel-o-tke-flug',RC,5,0,16,ticksTKE,{shade:SH,zero:false,label:'(o)'});
drawLine(p,tkeFLUG,'#000',2.8,'tke-line-flug');
p=makePanel('panel-p-co2-flug',RC,6,350,550,ticksCO2,{shade:SH,zero:false,xLabels:true,label:'(p)'});
drawLine(p,co2FLUG,'#000',2.8,'co2-line-flug');
</script>
</body></html>
